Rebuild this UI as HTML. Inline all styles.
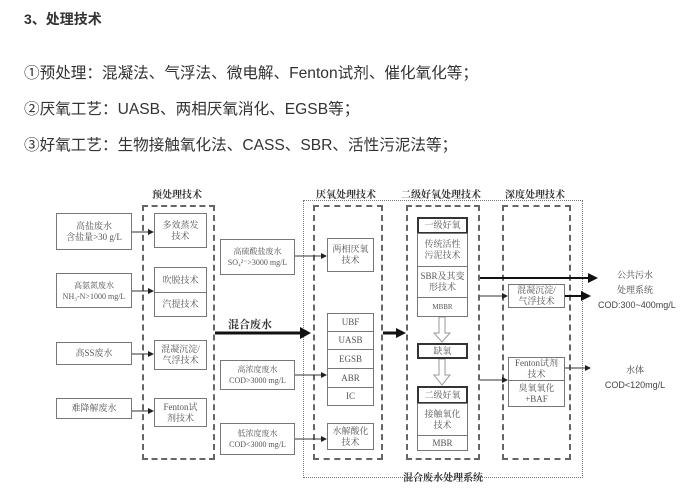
<!DOCTYPE html>
<html><head><meta charset="utf-8"><style>
body{margin:0;width:691px;height:498px;background:#fff;position:relative;overflow:hidden;font-family:"Liberation Sans","Noto Sans CJK SC",sans-serif;color:#333}
.t{position:absolute;white-space:nowrap}
.b{position:absolute;border:1px solid #777;box-sizing:border-box;display:flex;align-items:center;justify-content:center;text-align:center;font-family:"Liberation Serif","Noto Serif CJK SC",serif;font-size:9px;line-height:11px;color:#555;background:#fff}
.d{position:absolute;border:2px dashed #666;box-sizing:border-box}
.h{position:absolute;font-family:"Liberation Serif","Noto Serif CJK SC",serif;font-size:10px;color:#333;white-space:nowrap;font-weight:bold}
</style></head><body>
<div class="t" style="left:24px;top:9px;font-size:14px;font-weight:bold">3、处理技术</div>
<div class="t" style="left:24px;top:61px;font-size:15.6px">①预处理：混凝法、气浮法、微电解、Fenton试剂、催化氧化等；</div>
<div class="t" style="left:24px;top:97px;font-size:15.6px">②厌氧工艺：UASB、两相厌氧消化、EGSB等；</div>
<div class="t" style="left:24px;top:133px;font-size:15.6px">③好氧工艺：生物接触氧化法、CASS、SBR、活性污泥法等；</div>

<div style="position:absolute;left:303px;top:200px;width:280px;height:278px;border:1px dotted #777;box-sizing:border-box"></div>
<div class="d" style="left:142px;top:205px;width:73px;height:255px"></div>
<div class="d" style="left:313px;top:205px;width:70px;height:255px"></div>
<div class="d" style="left:406px;top:205px;width:74px;height:255px"></div>
<div class="d" style="left:502px;top:205px;width:69px;height:255px"></div>

<div class="h" style="left:152px;top:186px">预处理技术</div>
<div class="h" style="left:316px;top:186px">厌氧处理技术</div>
<div class="h" style="left:401px;top:186px">二级好氧处理技术</div>
<div class="h" style="left:505px;top:186px">深度处理技术</div>
<div class="h" style="left:403px;top:469px">混合废水处理系统</div>
<div class="h" style="left:228px;top:316px;font-size:11px">混合废水</div>

<svg width="691" height="498" style="position:absolute;left:0;top:0">
<defs><marker id="a" markerWidth="6" markerHeight="6" refX="5" refY="3" orient="auto"><path d="M0,0L6,3L0,6z" fill="#222"/></marker></defs>
<g stroke="#333" stroke-width="1" fill="none" marker-end="url(#a)">
<line x1="132" y1="232" x2="153" y2="232"/>
<line x1="132" y1="291" x2="153" y2="291"/>
<line x1="132" y1="354" x2="153" y2="354"/>
<line x1="132" y1="411" x2="153" y2="411"/>
<line x1="295" y1="256" x2="326" y2="256"/>
<line x1="295" y1="375" x2="326" y2="375"/>
<line x1="295" y1="439" x2="326" y2="439"/>
<line x1="480" y1="296" x2="507" y2="296"/>
<line x1="480" y1="380" x2="507" y2="380"/>
<line x1="565" y1="368" x2="590" y2="368"/>
</g>
<g stroke="#111" stroke-width="3" fill="none">
<line x1="215" y1="333" x2="302" y2="333"/>
<line x1="383" y1="333" x2="398" y2="333"/>
<line x1="480" y1="278" x2="590" y2="278" stroke-width="2"/>
<line x1="565" y1="296" x2="583" y2="296" stroke-width="2"/>
</g>
<path d="M300,327L311,333L300,339z" fill="#111"/>
<path d="M396,328L406,333L396,338z" fill="#111"/>
<path d="M588,273L598,278L588,283z" fill="#111"/>
<path d="M581,291L591,296L581,301z" fill="#111"/>
<g fill="#fff" stroke="#999">
<path d="M439,317V333H434L442,342L450,333H445V317z"/>
<path d="M439,359V375H434L442,385L450,375H445V359z"/>
</g>
</svg>

<div class="b" style="left:56px;top:213px;width:76px;height:37px">高盐废水<br>含盐量&gt;30 g/L</div>
<div class="b" style="left:56px;top:273px;width:76px;height:35px;font-size:8px">高氨氮废水<br>NH₃-N&gt;1000 mg/L</div>
<div class="b" style="left:56px;top:342px;width:76px;height:23px">高SS废水</div>
<div class="b" style="left:56px;top:398px;width:76px;height:21px">难降解废水</div>

<div class="b" style="left:154px;top:213px;width:53px;height:35px">多效蒸发<br>技术</div>
<div class="b" style="left:154px;top:267px;width:53px;height:26px">吹脱技术</div>
<div class="b" style="left:154px;top:292px;width:53px;height:25px">汽提技术</div>
<div class="b" style="left:154px;top:340px;width:53px;height:30px">混凝沉淀/<br>气浮技术</div>
<div class="b" style="left:154px;top:398px;width:53px;height:29px">Fenton试<br>剂技术</div>

<div class="b" style="left:220px;top:239px;width:75px;height:36px;font-size:8px">高硫酸盐废水<br>SO₄²⁻&gt;3000 mg/L</div>
<div class="b" style="left:220px;top:360px;width:75px;height:30px;font-size:8px">高浓度废水<br>COD&gt;3000 mg/L</div>
<div class="b" style="left:220px;top:423px;width:75px;height:32px;font-size:8px">低浓度废水<br>COD&lt;3000 mg/L</div>

<div class="b" style="left:327px;top:238px;width:47px;height:34px">两相厌氧<br>技术</div>
<div class="b" style="left:327px;top:313px;width:47px;height:19px">UBF</div>
<div class="b" style="left:327px;top:331px;width:47px;height:19px">UASB</div>
<div class="b" style="left:327px;top:349px;width:47px;height:20px">EGSB</div>
<div class="b" style="left:327px;top:368px;width:47px;height:20px">ABR</div>
<div class="b" style="left:327px;top:387px;width:47px;height:19px">IC</div>
<div class="b" style="left:327px;top:423px;width:47px;height:27px">水解酸化<br>技术</div>

<div class="b" style="left:417px;top:217px;width:51px;height:17px;border:2px solid #333">一级好氧</div>
<div class="b" style="left:417px;top:233px;width:51px;height:34px">传统活性<br>污泥技术</div>
<div class="b" style="left:417px;top:266px;width:51px;height:32px">SBR及其变<br>形技术</div>
<div class="b" style="left:417px;top:297px;width:51px;height:20px;font-size:7px">MBBR</div>
<div class="b" style="left:417px;top:343px;width:51px;height:16px;border:2px solid #333">缺氧</div>
<div class="b" style="left:417px;top:386px;width:51px;height:18px;border:2px solid #333">二级好氧</div>
<div class="b" style="left:417px;top:403px;width:51px;height:33px">接触氧化<br>技术</div>
<div class="b" style="left:417px;top:435px;width:51px;height:16px">MBR</div>

<div class="b" style="left:508px;top:284px;width:57px;height:24px">混凝沉淀/<br>气浮技术</div>
<div class="b" style="left:508px;top:357px;width:57px;height:24px">Fenton试剂<br>技术</div>
<div class="b" style="left:508px;top:380px;width:57px;height:27px">臭氧氧化<br>+BAF</div>

<div class="t" style="left:598px;top:268px;width:74px;text-align:center;font-size:9px;line-height:15px;color:#444;font-family:'Liberation Sans','Noto Serif CJK SC',serif">公共污水<br>处理系统<br>COD:300~400mg/L</div>
<div class="t" style="left:598px;top:363px;width:74px;text-align:center;font-size:9px;line-height:15px;color:#444;font-family:'Liberation Sans','Noto Serif CJK SC',serif">水体<br>COD&lt;120mg/L</div>
</body></html>
